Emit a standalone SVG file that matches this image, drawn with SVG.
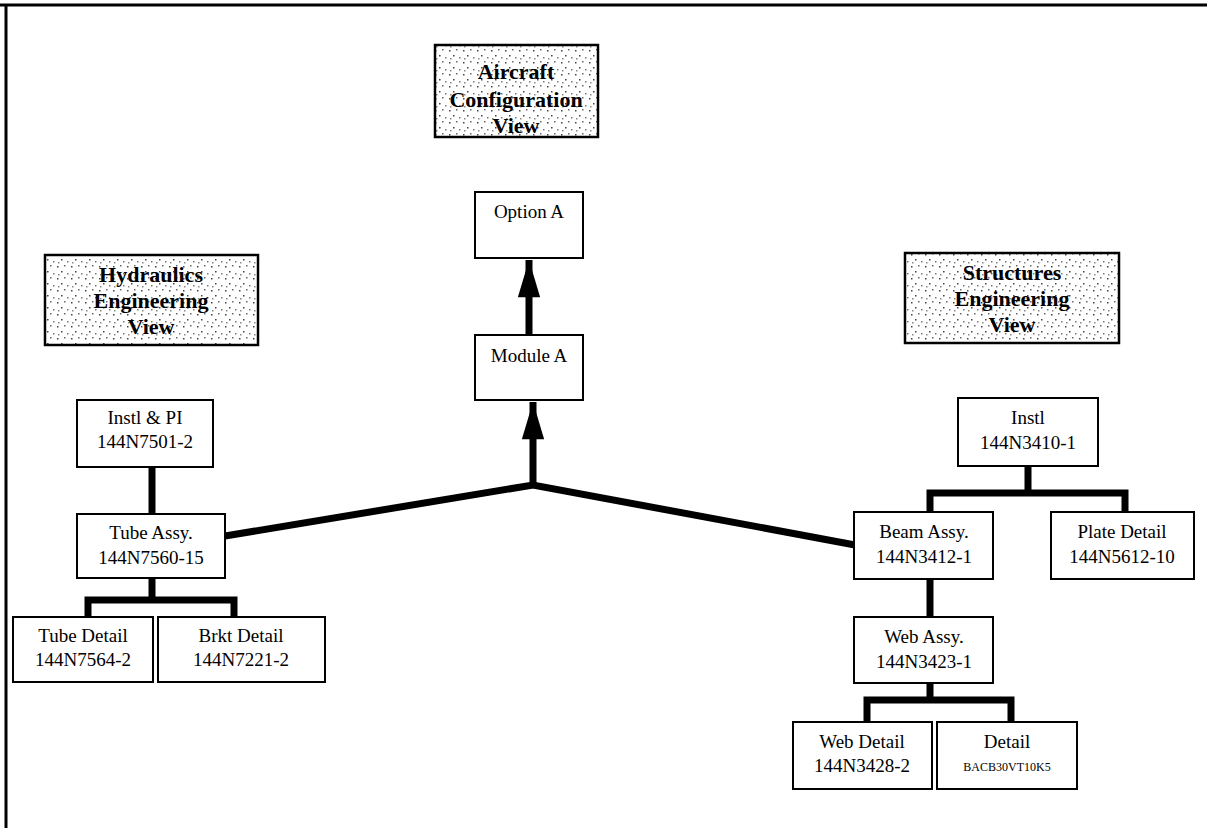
<svg xmlns="http://www.w3.org/2000/svg" width="1207" height="828" viewBox="0 0 1207 828">
  <style>
    .box { fill: #ffffff; stroke: #000000; stroke-width: 2; }
    .view { fill: url(#stipple); stroke: #000000; stroke-width: 2.5; }
    .lbl { font-family: "Liberation Serif", "Times New Roman", serif; font-size: 19px; fill: #000000; text-anchor: middle; }
    .small { font-family: "Liberation Serif", "Times New Roman", serif; font-size: 12px; fill: #000000; text-anchor: middle; }
    .vlbl { font-family: "Liberation Serif", "Times New Roman", serif; font-size: 22px; font-weight: bold; fill: #000000; text-anchor: middle; }
    .link { fill: none; stroke: #000000; stroke-width: 7; stroke-linejoin: miter; stroke-linecap: butt; }
    .frame { fill: none; stroke: #000000; stroke-width: 3; }
  </style>
  <defs>
    <pattern id="stipple" width="14" height="12" patternUnits="userSpaceOnUse">
      <rect width="14" height="12" fill="#ffffff"/>
      <rect x="1" y="2" width="1.5" height="1.5" fill="#444"/>
      <rect x="8" y="1" width="1.5" height="1.5" fill="#666"/>
      <rect x="5" y="7" width="1.5" height="1.5" fill="#444"/>
      <rect x="11" y="9" width="1.5" height="1.5" fill="#777"/>
      <rect x="2" y="10" width="1.5" height="1.5" fill="#888"/>
    </pattern>
    <marker id="head" viewBox="0 0 10 6" refX="10" refY="3" markerWidth="5.4" markerHeight="3.2" markerUnits="strokeWidth" orient="auto">
      <path d="M0,0 L10,3 L0,6 Z" fill="#000000"/>
    </marker>
  </defs>

  <!-- page frame -->
  <g id="frame">
    <line class="frame" x1="0" y1="5" x2="1207" y2="5"/>
    <line class="frame" x1="6" y1="5" x2="6" y2="828"/>
  </g>

  <!-- connectors -->
  <g id="connectors">
    <!-- left tree -->
    <path class="link" d="M152,467 V514"/>
    <path class="link" d="M152,578 V600 M88,617 V600 H234 V617"/>
    <!-- right tree -->
    <path class="link" d="M1028,466 V493 M930,512 V493 H1125 V512"/>
    <path class="link" d="M930,579 V617"/>
    <path class="link" d="M930,683 V700 M867,722 V700 H1011 V722"/>
    <!-- cross-links to junction -->
    <path class="link" d="M225,536 L533,485 L855,545"/>
    <!-- arrows up -->
    <line class="link" x1="533" y1="488" x2="533" y2="402" marker-end="url(#head)"/>
    <line class="link" x1="529" y1="335" x2="529" y2="260" marker-end="url(#head)"/>
  </g>

  <!-- view headers -->
  <g id="aircraft-view">
    <rect class="view" x="435" y="45" width="163" height="92"/>
    <text class="vlbl" x="516" y="79">Aircraft</text>
    <text class="vlbl" x="516" y="107">Configuration</text>
    <text class="vlbl" x="516" y="133">View</text>
  </g>
  <g id="hydraulics-view">
    <rect class="view" x="45" y="255" width="213" height="90"/>
    <text class="vlbl" x="151" y="282">Hydraulics</text>
    <text class="vlbl" x="151" y="308">Engineering</text>
    <text class="vlbl" x="151" y="334">View</text>
  </g>
  <g id="structures-view">
    <rect class="view" x="905" y="253" width="214" height="90"/>
    <text class="vlbl" x="1012" y="280">Structures</text>
    <text class="vlbl" x="1012" y="306">Engineering</text>
    <text class="vlbl" x="1012" y="332">View</text>
  </g>

  <!-- configuration nodes -->
  <g id="option-a">
    <rect class="box" x="475" y="192" width="108" height="66"/>
    <text class="lbl" x="529" y="218">Option A</text>
  </g>
  <g id="module-a">
    <rect class="box" x="475" y="335" width="108" height="65"/>
    <text class="lbl" x="529" y="362">Module A</text>
  </g>

  <!-- hydraulics nodes -->
  <g id="instl-pi">
    <rect class="box" x="77" y="400" width="136" height="67"/>
    <text class="lbl" x="145" y="424">Instl &amp; PI</text>
    <text class="lbl" x="145" y="448">144N7501-2</text>
  </g>
  <g id="tube-assy">
    <rect class="box" x="77" y="514" width="148" height="64"/>
    <text class="lbl" x="151" y="539">Tube Assy.</text>
    <text class="lbl" x="151" y="564">144N7560-15</text>
  </g>
  <g id="tube-detail">
    <rect class="box" x="13" y="617" width="140" height="65"/>
    <text class="lbl" x="83" y="642">Tube Detail</text>
    <text class="lbl" x="83" y="666">144N7564-2</text>
  </g>
  <g id="brkt-detail">
    <rect class="box" x="158" y="617" width="167" height="65"/>
    <text class="lbl" x="241" y="642">Brkt Detail</text>
    <text class="lbl" x="241" y="666">144N7221-2</text>
  </g>

  <!-- structures nodes -->
  <g id="instl">
    <rect class="box" x="958" y="398" width="140" height="68"/>
    <text class="lbl" x="1028" y="424">Instl</text>
    <text class="lbl" x="1028" y="449">144N3410-1</text>
  </g>
  <g id="beam-assy">
    <rect class="box" x="854" y="512" width="139" height="67"/>
    <text class="lbl" x="924" y="538">Beam Assy.</text>
    <text class="lbl" x="924" y="563">144N3412-1</text>
  </g>
  <g id="plate-detail">
    <rect class="box" x="1051" y="512" width="143" height="67"/>
    <text class="lbl" x="1122" y="538">Plate Detail</text>
    <text class="lbl" x="1122" y="563">144N5612-10</text>
  </g>
  <g id="web-assy">
    <rect class="box" x="854" y="617" width="139" height="66"/>
    <text class="lbl" x="924" y="643">Web Assy.</text>
    <text class="lbl" x="924" y="668">144N3423-1</text>
  </g>
  <g id="web-detail">
    <rect class="box" x="793" y="722" width="139" height="67"/>
    <text class="lbl" x="862" y="748">Web Detail</text>
    <text class="lbl" x="862" y="772">144N3428-2</text>
  </g>
  <g id="detail">
    <rect class="box" x="937" y="722" width="140" height="67"/>
    <text class="lbl" x="1007" y="748">Detail</text>
    <text class="small" x="1007" y="771">BACB30VT10K5</text>
  </g>
</svg>
